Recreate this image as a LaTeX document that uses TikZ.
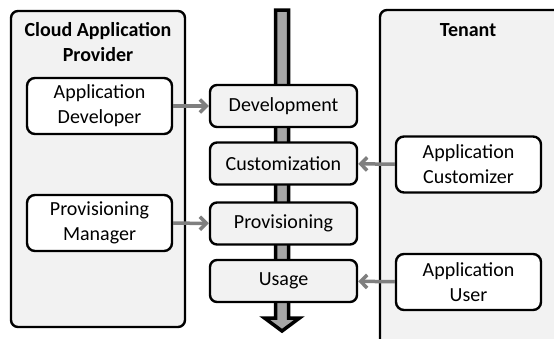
\documentclass[tikz,border=0pt]{standalone}
\usepackage{fontspec}
\setmainfont{Carlito}
\usetikzlibrary{arrows.meta}
\definecolor{panelgray}{RGB}{242,242,242}
\definecolor{linkgray}{RGB}{127,127,127}
\definecolor{shaftgray}{RGB}{166,166,166}

\begin{document}
\begin{tikzpicture}[
            x=1pt, y=-1pt,
            panel/.style={draw, line width=2.4pt, fill=panelgray, rounded corners=7pt},
            role/.style={draw, line width=2.4pt, fill=white, rounded corners=8pt, minimum width=145pt, minimum height=56pt, align=center, font=\fontsize{20}{25}\selectfont},
            stage/.style={draw, line width=2.4pt, fill=panelgray, rounded corners=7pt, minimum width=147pt, minimum height=42pt, align=center, font=\fontsize{20}{25}\selectfont},
            title/.style={align=center, font=\fontsize{20}{25}\selectfont\bfseries},
            arr/.style={-{Straight Barb[length=6.5pt,width=13pt]}, line width=3.5pt, linkgray}
        ]
            \useasboundingbox (0,0) rectangle (554,338);
            \clip (0,0) rectangle (554,338);

            \node[panel, minimum width=174pt, minimum height=316pt] (provider) at (98,169) {};
            \node[panel, minimum width=200pt, minimum height=340pt] (tenant) at (480,180) {};
            \node[title] (providertitle) at (98,42.5) {Cloud Application\\Provider};
            \node[title] (tenanttitle) at (468,30) {Tenant};

            % lifecycle arrow
            \draw[line width=3.5pt, fill=shaftgray] (275.5,10) -- (288.5,10) -- (288.5,318) -- (299.5,318)
                -- (282,331) -- (264.5,318) -- (275.5,318) -- cycle;

            \node[stage] (dev) at (283.5,106) {Development};
            \node[stage] (cust) at (283.5,163.5) {Customization};
            \node[stage] (prov) at (283.5,223.5) {Provisioning};
            \node[stage] (use) at (283.5,281) {Usage};

            \node[role] (appdev) at (99.5,106) {Application\\Developer};
            \node[role] (provmgr) at (99.5,223) {Provisioning\\Manager};
            \node[role] (appcust) at (468.5,164.5) {Application\\Customizer};
            \node[role] (appuser) at (468.5,282) {Application\\User};

            \draw[arr] (appdev) -- (dev);
            \draw[arr] (provmgr) -- (prov);
            \draw[arr] (appcust) -- (cust);
            \draw[arr] (appuser) -- (use);
        \end{tikzpicture}
\end{document}
